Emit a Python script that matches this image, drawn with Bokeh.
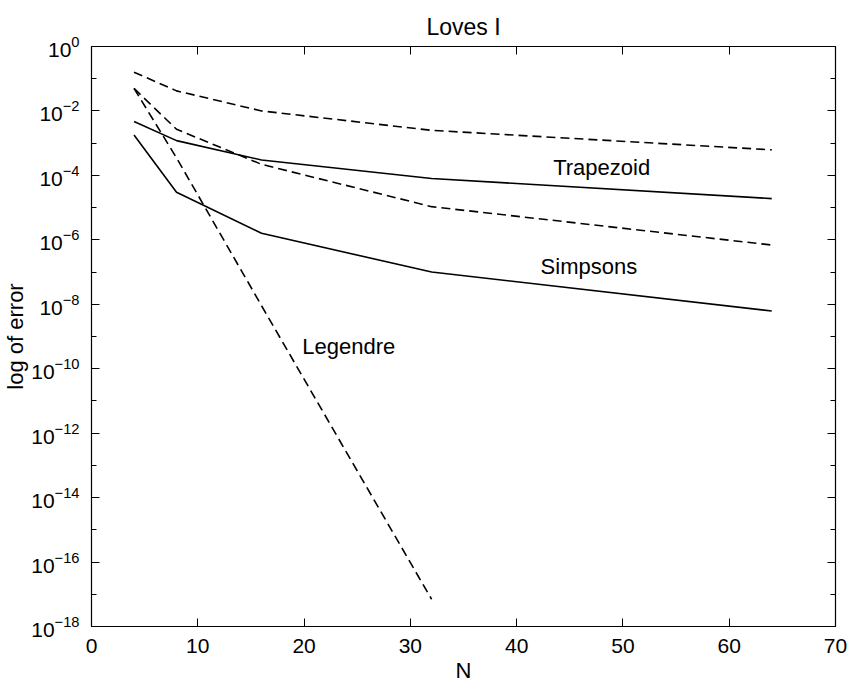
from bokeh.plotting import figure
from bokeh.models import LogAxis, LinearAxis, FixedTicker, CustomJSTickFormatter, Range1d
from bokeh.core.properties import value
from bokeh.embed import file_html
from bokeh.resources import INLINE

# ---- data ----
N = [4, 8, 16, 32, 64]
trap_upper_dashed = [1.6e-1, 4.2e-2, 1.0e-2, 2.5e-3, 6.2e-4]
trapezoid = [4.7e-3, 1.2e-3, 3.0e-4, 8.0e-5, 1.9e-5]
simp_dashed = [5.0e-2, 2.7e-3, 2.2e-4, 1.07e-5, 6.9e-7]
simpsons = [1.8e-3, 3.0e-5, 1.6e-6, 1.0e-7, 6.2e-9]
N_leg = [4, 8, 16, 32]
legendre = [5.0e-2, 3.5e-4, 9.0e-9, 7.0e-18]

label_text = ["Trapezoid", "Simpsons", "Legendre"]
label_x = [48.0, 46.8, 24.2]
label_y = [10 ** -3.74, 10 ** -6.84, 10 ** -9.30]

x_ticks = [0, 10, 20, 30, 40, 50, 60, 70]
y_major = [10.0 ** -e for e in range(0, 19, 2)]
y_minor = [10.0 ** -e for e in range(1, 18, 2)]

FONT = "Liberation Sans"

p = figure(frame_width=744, frame_height=580,
           x_range=Range1d(0, 70), y_range=Range1d(1e-18, 1),
           y_axis_type="log", output_backend="svg", toolbar_location=None,
           min_border_left=86, min_border_top=46, min_border_right=16,
           min_border_bottom=50)
p.background_fill_color = "white"
p.border_fill_color = "white"
p.outline_line_color = "black"
p.xgrid.visible = False
p.ygrid.visible = False

p.title.text = "Loves I"
p.title.align = "center"
p.title.text_font = FONT
p.title.text_font_size = "23px"
p.title.text_font_style = "normal"
p.title.text_color = "black"
p.title.standoff = 14


def style(ax):
    ax.axis_line_color = "black"
    ax.axis_line_width = 1.2
    ax.major_tick_line_color = "black"
    ax.minor_tick_line_color = "black"
    ax.major_tick_in = 8
    ax.major_tick_out = 0
    ax.minor_tick_in = 5
    ax.minor_tick_out = 0
    ax.major_label_text_font = FONT
    ax.major_label_text_font_size = "21px"
    ax.major_label_text_color = "black"
    ax.axis_label_text_font = FONT
    ax.axis_label_text_font_size = "22px"
    ax.axis_label_text_font_style = "normal"
    ax.axis_label_text_color = "black"


xax = p.xaxis[0]
xax.ticker = FixedTicker(ticks=x_ticks)
style(xax)
xax.axis_label = "N"
xax.major_label_standoff = 12
xax.axis_label_standoff = 2

yax = p.yaxis[0]
yax.ticker = FixedTicker(ticks=y_major, minor_ticks=y_minor)
style(yax)
yax.axis_label = "log of error"
yax.major_label_standoff = 12
yax.axis_label_standoff = 0

blank = CustomJSTickFormatter(code="return ''")
top = LinearAxis(ticker=FixedTicker(ticks=x_ticks), formatter=blank)
style(top)
p.add_layout(top, "above")
right = LogAxis(ticker=FixedTicker(ticks=y_major, minor_ticks=y_minor), formatter=blank)
style(right)
p.add_layout(right, "right")

LW = 1.6
DASH = "9 5"
p.line(N, trap_upper_dashed, line_color="black", line_width=LW, line_dash=DASH)
p.line(N, trapezoid, line_color="black", line_width=LW)
p.line(N, simp_dashed, line_color="black", line_width=LW, line_dash=DASH)
p.line(N, simpsons, line_color="black", line_width=LW)
p.line(N_leg, legendre, line_color="black", line_width=LW, line_dash=DASH)

p.text(x=label_x, y=label_y, text=label_text, text_font=value(FONT),
       text_font_size="22px", text_align="center", text_baseline="middle",
       text_color="black")

open("out.html", "w").write(file_html(p, INLINE))
